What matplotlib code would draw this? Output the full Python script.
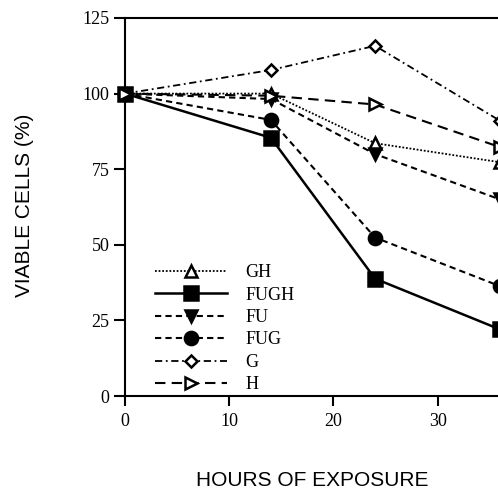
import matplotlib
matplotlib.use("Agg")
import matplotlib.pyplot as plt

hours = [0, 14, 24, 36]
series_names = ["GH", "FUGH", "FU", "FUG", "G", "H"]
GH = [100, 100, 83.6, 77.3]
FUGH = [100, 85.4, 38.8, 22]
FU = [100, 98.2, 80, 65]
FUG = [100, 91.3, 52.4, 36.3]
G = [100, 107.8, 115.8, 91]
H = [100, 99.3, 96.4, 82.3]
yticks = [0, 25, 50, 75, 100, 125]
xticks = [0, 10, 20, 30]

fig = plt.figure(figsize=(4.98, 4.90), dpi=100)
ax = fig.add_axes([125/498, 1-396/490, 416.8/498, 378/490])

styles = {
    "GH": dict(ls=(0, (1, 1)), marker="^", mfc="white", ms=8.5, lw=1.3),
    "FUGH": dict(ls="-", marker="s", mfc="black", ms=10, lw=1.8),
    "FU": dict(ls=(0, (3, 2)), marker="v", mfc="black", ms=9, lw=1.5),
    "FUG": dict(ls=(0, (3, 2)), marker="o", mfc="black", ms=9.5, lw=1.5),
    "G": dict(ls=(0, (4, 2, 1, 2)), marker="D", mfc="white", ms=6, lw=1.3),
    "H": dict(ls=(0, (5, 3)), marker=">", mfc="white", ms=9, lw=1.5),
}
data = {"GH": GH, "FUGH": FUGH, "FU": FU, "FUG": FUG, "G": G, "H": H}
for name in series_names:
    st = styles[name]
    ax.plot(hours, data[name], color="black", linestyle=st["ls"], lw=st["lw"],
            marker=st["marker"], markerfacecolor=st["mfc"], markeredgecolor="black",
            markeredgewidth=1.8, markersize=st["ms"], label=name, clip_on=False, zorder=3)

ax.set_xlim(0, 40)
ax.set_ylim(0, 125)
ax.set_xticks(xticks)
ax.set_yticks(yticks)
ax.spines["right"].set_visible(False)
for s in ax.spines.values():
    s.set_linewidth(1.5)
ax.tick_params(axis="y", direction="out", length=8, width=1.5, pad=3, labelsize=13)
ax.tick_params(axis="x", direction="out", length=7.5, width=1.5, pad=5, labelsize=13)
for lab in ax.get_xticklabels() + ax.get_yticklabels():
    lab.set_fontfamily("Liberation Serif")

fig.text(25/498, 1-205/490, "VIABLE CELLS (%)", fontsize=15, fontfamily="Liberation Sans",
         rotation=90, ha="center", va="center")
fig.text(312/498, 1-480/490, "HOURS OF EXPOSURE", fontsize=15, fontfamily="Liberation Sans",
         ha="center", va="center")

leg = ax.legend(loc="upper left", bbox_to_anchor=((148-125)/416.8, 1-(257-18)/378),
                frameon=False, handlelength=4.0, handletextpad=1.0, labelspacing=0.3,
                prop={"family": "Liberation Serif", "size": 13}, borderaxespad=0)
fig.savefig("out.png", dpi=100)
